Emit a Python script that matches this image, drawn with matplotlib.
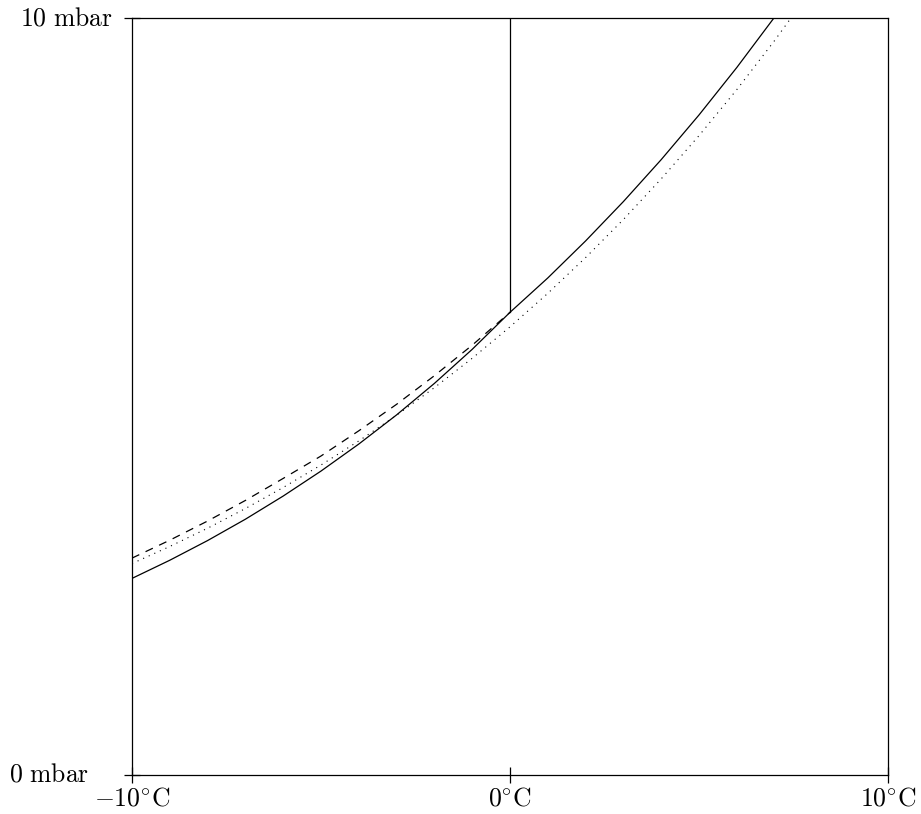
import matplotlib
matplotlib.use("Agg")
import matplotlib.pyplot as plt

plt.rcParams['mathtext.fontset'] = 'cm'
plt.rcParams['lines.scale_dashes'] = False

# Temperatures (°C)
temp_ice = [-10, -9, -8, -7, -6, -5, -4, -3, -2, -1, 0]
p_ice = [2.597, 2.837, 3.097, 3.379, 3.685, 4.015, 4.372, 4.757, 5.173, 5.623, 6.112]

temp_supercooled = [-10, -9, -8, -7, -6, -5, -4, -3, -2, -1, 0]
p_supercooled = [2.865, 3.102, 3.355, 3.627, 3.918, 4.214, 4.547, 4.897, 5.275, 5.678, 6.112]

temp_liquid = [0, 1, 2, 3, 4, 5, 6, 7, 8]
p_liquid = [6.112, 6.566, 7.055, 7.575, 8.129, 8.719, 9.346, 10.012, 10.72]

temp_approx = [-10, -9, -8, -7, -6, -5, -4, -3, -2, -1, 0, 1, 2, 3, 4, 5, 6, 7, 8]
p_approx = [2.793, 3.019, 3.260, 3.520, 3.798, 4.095, 4.413, 4.753, 5.117, 5.505,
            5.920, 6.363, 6.835, 7.338, 7.875, 8.446, 9.054, 9.702, 10.39]

melt_temp = [0, 0]
melt_p = [6.112, 10]

x_ticks = [-10, 0, 10]
x_labels = [r'$-10^{\circ}\mathrm{C}$', r'$0^{\circ}\mathrm{C}$', r'$10^{\circ}\mathrm{C}$']
y_ticks = [0, 10]
y_labels = [r'$0\ \mathrm{mbar}$', r'$10\ \mathrm{mbar}$']
y_label_right_px = [89, 113]

W, H = 921, 814
fig = plt.figure(figsize=(W / 100, H / 100), dpi=100)
ax = fig.add_axes([132 / W, 1 - 775 / H, (888 - 132) / W, (775 - 18) / H])

lw = 0.9
ax.plot(temp_ice, p_ice, color='black', lw=lw)
ax.plot(temp_liquid, p_liquid, color='black', lw=lw)
ax.plot(temp_supercooled, p_supercooled, color='black', lw=lw, dashes=(5.8, 5.0))
ax.plot(temp_approx, p_approx, color='black', lw=0.8, dashes=(0.8, 3.6))
ax.plot(melt_temp, melt_p, color='black', lw=lw)

ax.set_xlim(-10, 10)
ax.set_ylim(0, 10)
for s in ax.spines.values():
    s.set_linewidth(0.9)

fs = 18.5
ax.set_xticks(x_ticks)
ax.set_xticklabels(x_labels, fontsize=fs)
ax.set_yticks(y_ticks)
ax.set_yticklabels(['', ''])
ax.tick_params(direction='inout', length=11, width=0.9, pad=2)

for yv, lab, rx in zip(y_ticks, y_labels, y_label_right_px):
    ax.annotate(lab, xy=(rx, yv), xycoords=('figure pixels', 'data'),
                ha='right', va='center', fontsize=fs, annotation_clip=False)

fig.savefig('out.png', dpi=100)
